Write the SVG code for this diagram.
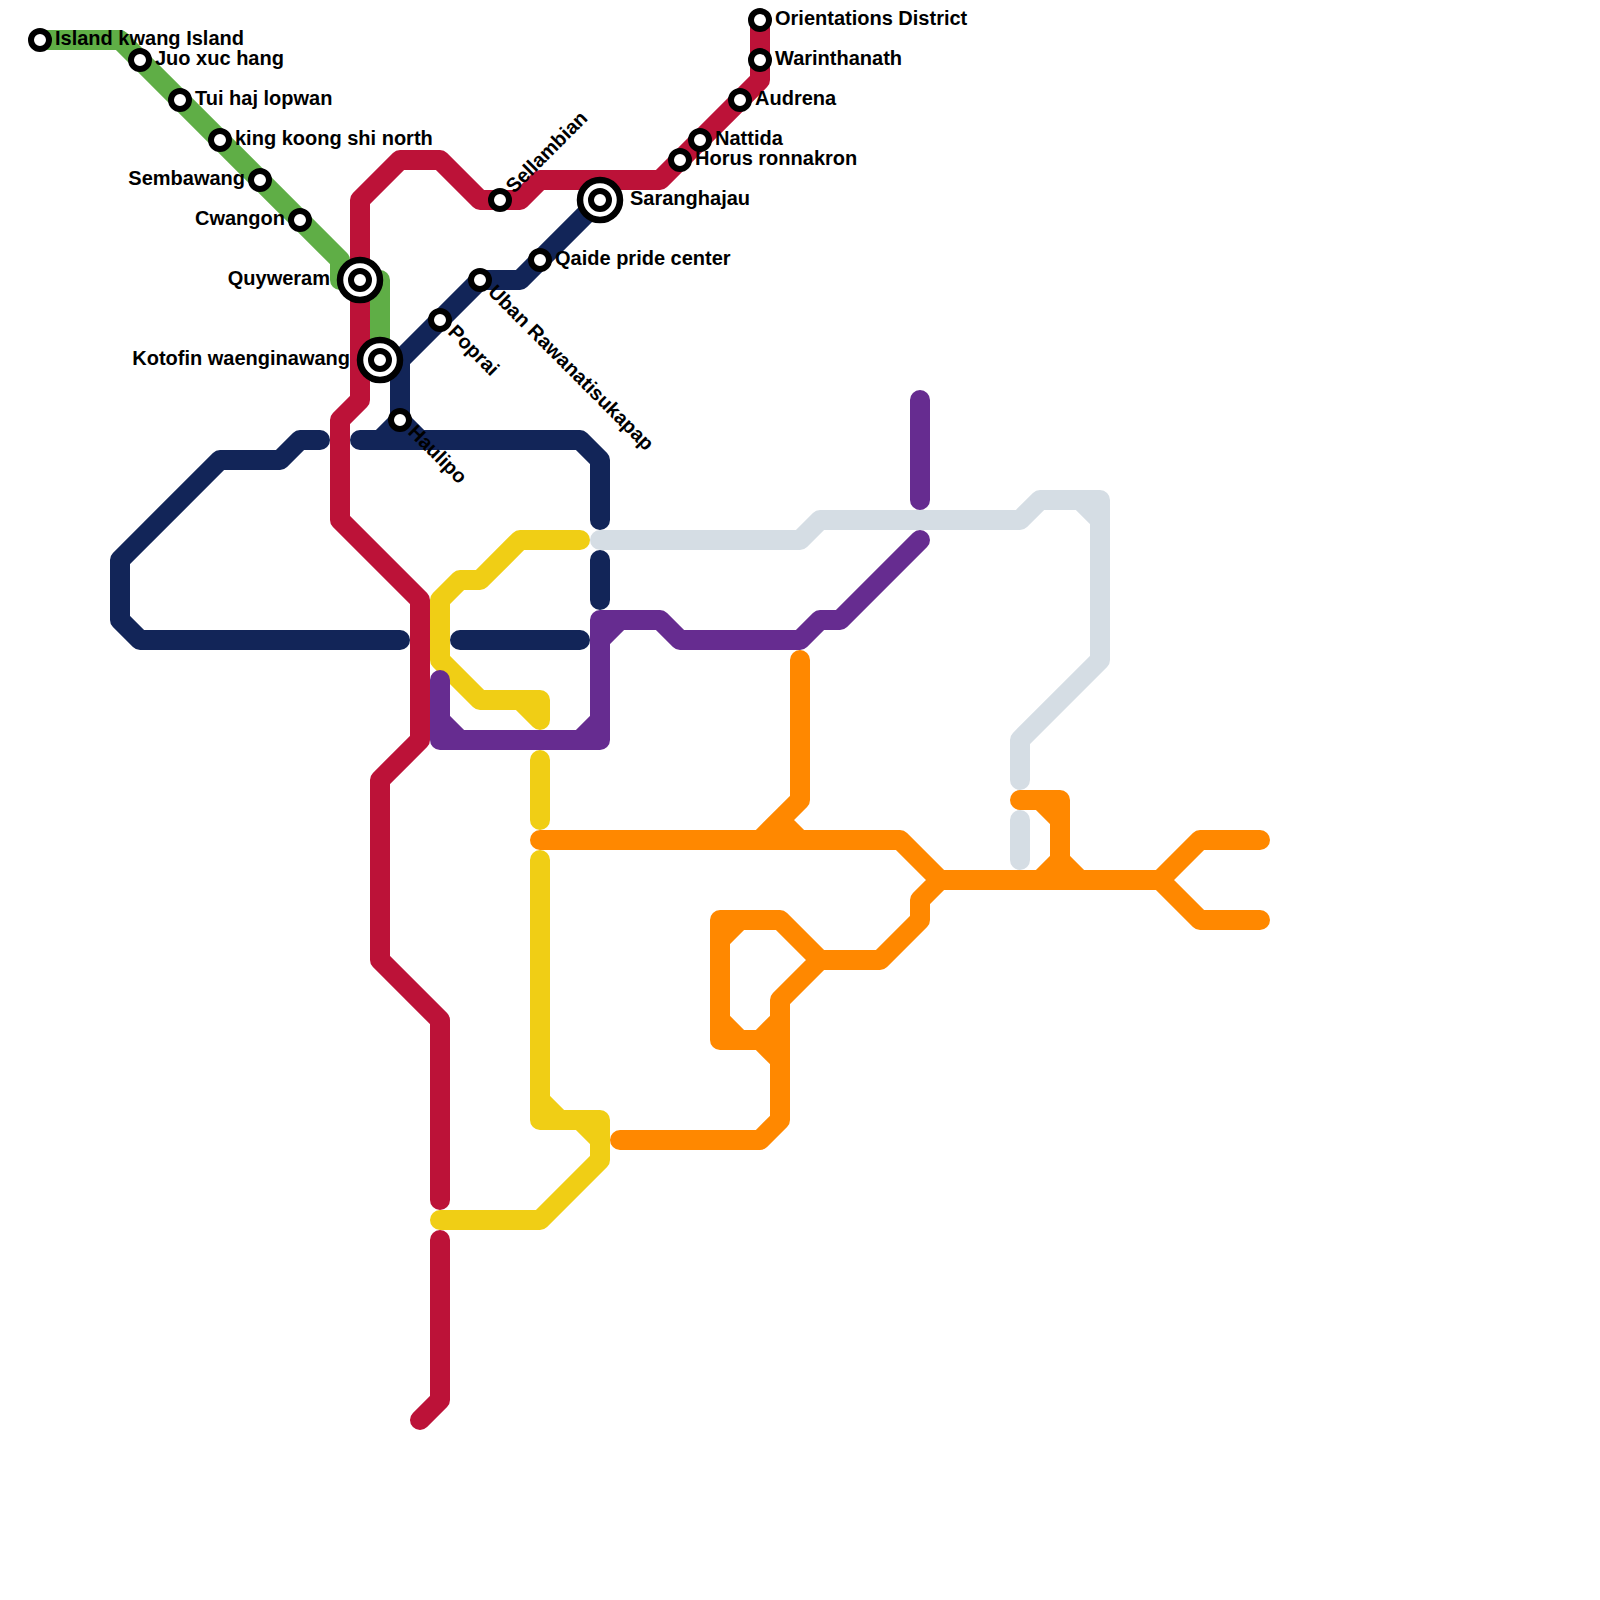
<svg xmlns="http://www.w3.org/2000/svg" width="1600" height="1600" viewBox="0 0 1600 1600">
<style>
.l{fill:none;stroke-width:20;stroke-linecap:round;stroke-linejoin:round}
.s{fill:#fff;stroke:#000;stroke-width:6}
.b{fill:#fff;stroke:#000;stroke-width:6.5}
text{font-family:"Liberation Sans",Arial,sans-serif;font-size:20px;font-weight:bold;fill:#000}
.e{text-anchor:end}
</style>
<rect width="1600" height="1600" fill="#fff"/>
<g id="connectors">
<path class="l" stroke="#5fae46" d="M40 40H120L340 260V280H380V360"/>
<path class="l" stroke="#122558" d="M600 200L520 280H480L400 360V420L380 440H360H580L600 460V520M400 420L420 440M320 440H300L280 460H220L120 560V620L140 640H400M460 640H580M600 560V600"/>
<path class="l" stroke="#bc1238" d="M760 20V80L660 180H540L520 200H480L440 160H400L360 200V400L340 420V520L420 600V740L380 780V960L440 1020V1200M440 1240V1400L420 1420"/>
<path class="l" stroke="#f0ce15" d="M580 540H520L480 580H460L440 600V660L480 700H540V720L520 700M540 760V820M540 860V1120H600V1160L540 1220H440M540 1100L560 1120M580 1120L600 1140"/>
<path class="l" stroke="#662c90" d="M920 400V500M920 540L840 620H820L800 640H680L660 620H600V740H440V680M600 640L620 620M440 720L460 740M580 740L600 720"/>
<path class="l" stroke="#ff8800" d="M800 660V800L760 840M780 820L800 840M540 840H900L940 880H1160L1200 840H1260M1160 880L1200 920H1260M1020 800H1060V860L1040 880M1040 800L1060 820M1060 860L1080 880M940 880L920 900V920L880 960H820L780 1000V1120L760 1140H620M820 960L780 920H720V1040H760L780 1060M720 940L740 920M720 1020L740 1040M760 1040L780 1020"/>
<path class="l" stroke="#d5dde4" d="M600 540H800L820 520H1020L1040 500H1100V660L1020 740V780M1080 500L1100 520M1020 820V860"/>
</g>
<g id="n1"><circle class="s" cx="40" cy="40" r="9"/><text x="55" y="45">Island kwang Island</text></g>
<g id="n2"><circle class="s" cx="140" cy="60" r="9"/><text x="155" y="65">Juo xuc hang</text></g>
<g id="n3"><circle class="s" cx="180" cy="100" r="9"/><text x="195" y="105">Tui haj lopwan</text></g>
<g id="n4"><circle class="s" cx="220" cy="140" r="9"/><text x="235" y="145">king koong shi north</text></g>
<g id="n5"><circle class="s" cx="260" cy="180" r="9"/><text class="e" x="245" y="185">Sembawang</text></g>
<g id="n6"><circle class="s" cx="300" cy="220" r="9"/><text class="e" x="285" y="225">Cwangon</text></g>
<g id="n7"><circle class="b" cx="360" cy="280" r="20"/><circle class="s" cx="360" cy="280" r="9"/><text class="e" x="330" y="285">Quyweram</text></g>
<g id="n8"><circle class="b" cx="380" cy="360" r="20"/><circle class="s" cx="380" cy="360" r="9"/><text class="e" x="350" y="365">Kotofin waenginawang</text></g>
<g id="n9"><circle class="s" cx="400" cy="420" r="9"/><text transform="translate(407 433) rotate(45)">Haulipo</text></g>
<g id="n10"><circle class="s" cx="440" cy="320" r="9"/><text transform="translate(447 333) rotate(45)">Poprai</text></g>
<g id="n11"><circle class="s" cx="480" cy="280" r="9"/><text transform="translate(487 293) rotate(45)">Uban Rawanatisukapap</text></g>
<g id="n12"><circle class="s" cx="540" cy="260" r="9"/><text x="555" y="265">Qaide pride center</text></g>
<g id="n13"><circle class="b" cx="600" cy="200" r="20"/><circle class="s" cx="600" cy="200" r="9"/><text x="630" y="205">Saranghajau</text></g>
<g id="n14"><circle class="s" cx="500" cy="200" r="9"/><text transform="translate(514 194) rotate(-45)">Sellambian</text></g>
<g id="n15"><circle class="s" cx="680" cy="160" r="9"/><text x="695" y="165">Horus ronnakron</text></g>
<g id="n16"><circle class="s" cx="700" cy="140" r="9"/><text x="715" y="145">Nattida</text></g>
<g id="n17"><circle class="s" cx="740" cy="100" r="9"/><text x="755" y="105">Audrena</text></g>
<g id="n18"><circle class="s" cx="760" cy="60" r="9"/><text x="775" y="65">Warinthanath</text></g>
<g id="n19"><circle class="s" cx="760" cy="20" r="9"/><text x="775" y="25">Orientations District</text></g>
</svg>
